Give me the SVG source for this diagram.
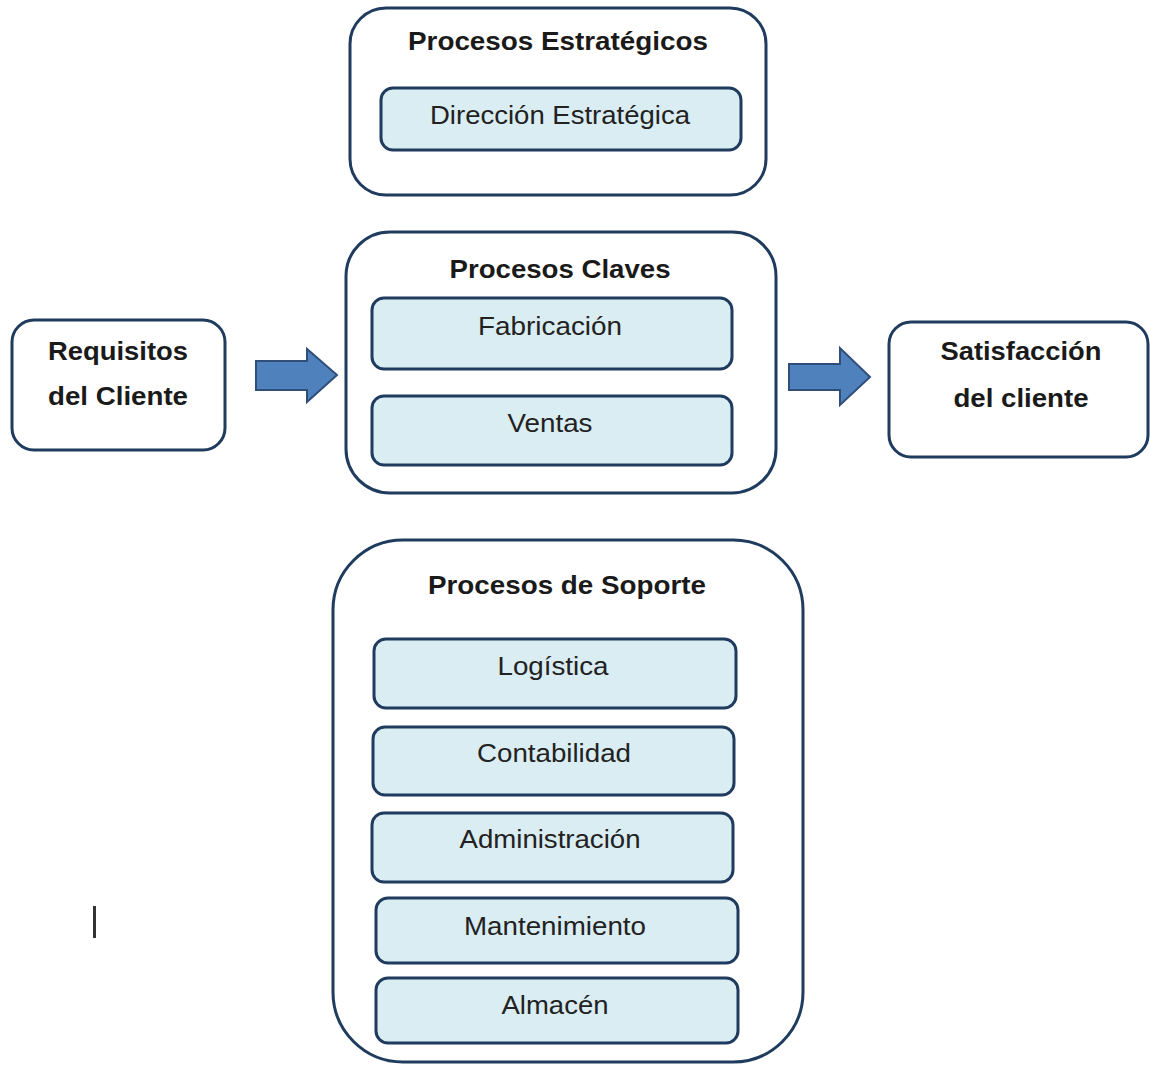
<svg xmlns="http://www.w3.org/2000/svg" width="1150" height="1066" viewBox="0 0 1150 1066">
<style>
.outer{fill:#ffffff;stroke:#1f3b5e;stroke-width:3}
.inner{fill:#daedf3;stroke:#1f3b5e;stroke-width:3}
.title{font-family:"Liberation Sans",Arial,sans-serif;font-weight:bold;font-size:25px;fill:#1a1a1a;text-anchor:middle}
.label{font-family:"Liberation Sans",Arial,sans-serif;font-size:25px;fill:#222;text-anchor:middle}
.arrow{fill:#4f81bd;stroke:#2f4f7a;stroke-width:2}
</style>
<rect width="1150" height="1066" fill="#ffffff"/>
<g id="estrategicos">
<rect class="outer" x="350" y="8" width="416" height="187" rx="36"/>
<text class="title" x="558" y="50" textLength="300" lengthAdjust="spacingAndGlyphs">Procesos Estratégicos</text>
<g id="direccion">
<rect class="inner" x="381" y="88" width="360" height="62" rx="12"/>
<text class="label" x="560" y="124" textLength="260" lengthAdjust="spacingAndGlyphs">Dirección Estratégica</text>
</g>
</g>
<g id="claves">
<rect class="outer" x="346" y="232" width="430" height="261" rx="44"/>
<text class="title" x="560" y="278" textLength="221" lengthAdjust="spacingAndGlyphs">Procesos Claves</text>
<g id="fabricacion">
<rect class="inner" x="372" y="298" width="360" height="71" rx="12"/>
<text class="label" x="550" y="335" textLength="144" lengthAdjust="spacingAndGlyphs">Fabricación</text>
</g>
<g id="ventas">
<rect class="inner" x="372" y="396" width="360" height="69" rx="12"/>
<text class="label" x="550" y="432" textLength="85" lengthAdjust="spacingAndGlyphs">Ventas</text>
</g>
</g>
<g id="requisitos">
<rect class="outer" x="12" y="320" width="213" height="130" rx="22"/>
<text class="title" x="118" y="360" textLength="140" lengthAdjust="spacingAndGlyphs">Requisitos</text>
<text class="title" x="118" y="405" textLength="140" lengthAdjust="spacingAndGlyphs">del Cliente</text>
</g>
<g id="satisfaccion">
<rect class="outer" x="889" y="322" width="259" height="135" rx="22"/>
<text class="title" x="1021" y="360" textLength="161" lengthAdjust="spacingAndGlyphs">Satisfacción</text>
<text class="title" x="1021" y="407" textLength="135" lengthAdjust="spacingAndGlyphs">del cliente</text>
</g>
<g id="connectors">
<polygon class="arrow" points="256,361 307,361 307,349 337,375 307,402 307,390 256,390"/>
<polygon class="arrow" points="789,364 840,364 840,348 870,377 840,405 840,390 789,390"/>
</g>
<g id="soporte">
<rect class="outer" x="333" y="540" width="470" height="522" rx="70"/>
<text class="title" x="567" y="594" textLength="278" lengthAdjust="spacingAndGlyphs">Procesos de Soporte</text>
<g id="logistica">
<rect class="inner" x="374" y="639" width="362" height="69" rx="12"/>
<text class="label" x="553" y="675" textLength="111" lengthAdjust="spacingAndGlyphs">Logística</text>
</g>
<g id="contabilidad">
<rect class="inner" x="373" y="727" width="361" height="68" rx="12"/>
<text class="label" x="554" y="762" textLength="154" lengthAdjust="spacingAndGlyphs">Contabilidad</text>
</g>
<g id="administracion">
<rect class="inner" x="372" y="813" width="361" height="69" rx="12"/>
<text class="label" x="550" y="848" textLength="181" lengthAdjust="spacingAndGlyphs">Administración</text>
</g>
<g id="mantenimiento">
<rect class="inner" x="376" y="898" width="362" height="65" rx="12"/>
<text class="label" x="555" y="935" textLength="182" lengthAdjust="spacingAndGlyphs">Mantenimiento</text>
</g>
<g id="almacen">
<rect class="inner" x="376" y="978" width="362" height="65" rx="12"/>
<text class="label" x="555" y="1014" textLength="107" lengthAdjust="spacingAndGlyphs">Almacén</text>
</g>
</g>
<rect x="93" y="906" width="3" height="32" fill="#333"/>
</svg>
